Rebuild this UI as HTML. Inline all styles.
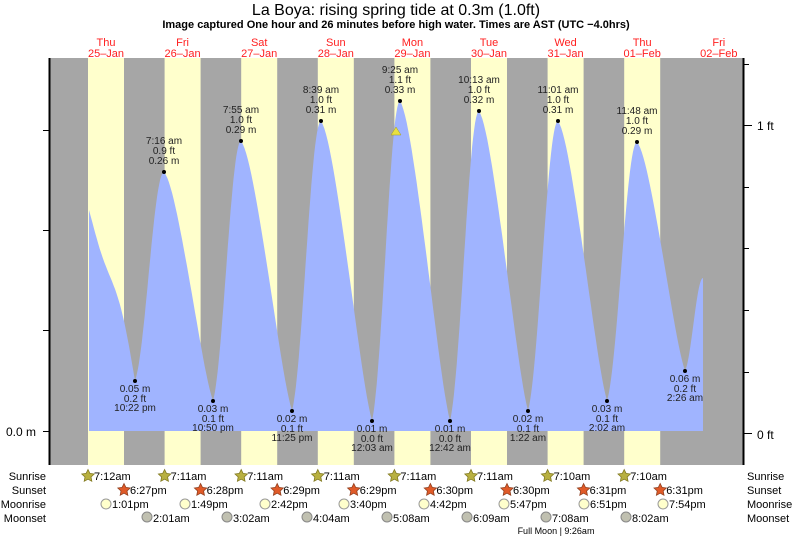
<!DOCTYPE html>
<html><head><meta charset="utf-8"><style>
body{margin:0;background:#fff;}
svg{display:block;font-family:"Liberation Sans",sans-serif;}
</style></head><body>
<svg id="s" width="793" height="539" viewBox="0 0 793 539">
<rect x="50" y="58" width="693" height="407" fill="#a6a6a6"/>
<g id="days" fill="#ffffcc"></g>
<path id="tide" fill="#a0b4ff"/>
<g id="pts"></g>
<line x1="49.5" y1="58" x2="49.5" y2="465" stroke="#000" stroke-width="2"/>
<line x1="743.5" y1="58" x2="743.5" y2="465" stroke="#000" stroke-width="2"/>
<g stroke="#000" stroke-width="1">
<line x1="43" y1="431.5" x2="49" y2="431.5"/><line x1="43" y1="330.5" x2="49" y2="330.5"/>
<line x1="43" y1="230.5" x2="49" y2="230.5"/><line x1="43" y1="130.5" x2="49" y2="130.5"/>
<line x1="744" y1="433.5" x2="752" y2="433.5"/><line x1="744" y1="125.5" x2="752" y2="125.5"/>
<line x1="744" y1="372.5" x2="749" y2="372.5"/><line x1="744" y1="310.5" x2="749" y2="310.5"/>
<line x1="744" y1="248.5" x2="749" y2="248.5"/><line x1="744" y1="187.5" x2="749" y2="187.5"/>
<line x1="744" y1="64.5" x2="749" y2="64.5"/>
</g>
<text x="6" y="436" font-size="12">0.0 m</text>
<text x="757" y="439" font-size="12">0 ft</text>
<text x="757" y="130" font-size="12">1 ft</text>
<text x="396" y="15" font-size="16" text-anchor="middle">La Boya: rising  spring tide at 0.3m (1.0ft)</text>
<text x="396" y="28" font-size="11" font-weight="bold" text-anchor="middle">Image captured One hour and 26 minutes before high water. Times are AST (UTC −4.0hrs)</text>
<g id="lbl" font-size="10" text-anchor="middle" fill="#222"></g>
<g id="bot" font-size="11"></g>
<polygon points="396,127 401,135 391,135" fill="#e8e040" stroke="#a09a20" stroke-width="0.5"/>
</svg>
<script>
var NS="http://www.w3.org/2000/svg";
function el(p,t,a,txt){var e=document.createElementNS(NS,t);for(var k in a)e.setAttribute(k,a[k]);if(txt!=null)e.textContent=txt;document.getElementById(p).appendChild(e);return e;}
var P=76.6;
var dn=["Thu","Fri","Sat","Sun","Mon","Tue","Wed","Thu","Fri"],dd=["25-Jan","26-Jan","27-Jan","28-Jan","29-Jan","30-Jan","31-Jan","01-Feb","02-Feb"];
for(var k=0;k<8;k++){el("days","rect",{x:88+P*k,y:58,width:36,height:407});}
for(var k=0;k<9;k++){var cx=106+P*k;el("lbl","text",{x:cx,y:46,fill:"#ff2020","font-size":"11"},dn[k]);el("lbl","text",{x:cx,y:57,fill:"#ff2020","font-size":"11"},dd[k].replace("-","\u2013"));}
var ex=[[89,210],[135,381],[164,172],[213,401],[241,141],[292,411],[321,121],[372,421],[400,101],[450,421],[479,111],[528,411],[558,121],[607,401],[637,142],[685,371],[703,278]];
var d="M89,431 L89,210 ";
for(var i=0;i<ex.length-1;i++){var a=ex[i],b=ex[i+1];var falling=b[1]>a[1];
for(var t=1;t<=30;t++){var f=t/30;var g;var c=(1-Math.cos(Math.PI*f))/2;
if(i==0){g=0.6*f+0.4*(1-Math.cos(Math.PI*f/2))+0.06*Math.sin(2*Math.PI*f);}
else if(i==ex.length-2){g=0.75*c+0.25*Math.sin(Math.PI*f/2);}
else if(falling){g=0.75*c+0.25*(1-Math.cos(Math.PI*f/2))+0.04*Math.sin(2*Math.PI*f);}
else{g=0.75*c+0.25*Math.sin(Math.PI*f/2);}
var x=a[0]+(b[0]-a[0])*f;var y=a[1]+(b[1]-a[1])*g;d+="L"+x.toFixed(1)+","+y.toFixed(1)+" ";}}
d+="L703,431 Z";document.getElementById("tide").setAttribute("d",d);
var hi=[[164,172,"7:16 am","0.9 ft","0.26 m"],[241,141,"7:55 am","1.0 ft","0.29 m"],[321,121,"8:39 am","1.0 ft","0.31 m"],[400,101,"9:25 am","1.1 ft","0.33 m"],[479,111,"10:13 am","1.0 ft","0.32 m"],[558,121,"11:01 am","1.0 ft","0.31 m"],[637,142,"11:48 am","1.0 ft","0.29 m"]];
hi.forEach(function(h){el("pts","circle",{cx:h[0],cy:h[1],r:2});el("lbl","text",{x:h[0],y:h[1]-28},h[2]);el("lbl","text",{x:h[0],y:h[1]-18},h[3]);el("lbl","text",{x:h[0],y:h[1]-8},h[4]);});
var lo=[[135,381,"0.05 m","0.2 ft","10:22 pm"],[213,401,"0.03 m","0.1 ft","10:50 pm"],[292,411,"0.02 m","0.1 ft","11:25 pm"],[372,421,"0.01 m","0.0 ft","12:03 am"],[450,421,"0.01 m","0.0 ft","12:42 am"],[528,411,"0.02 m","0.1 ft","1:22 am"],[607,401,"0.03 m","0.1 ft","2:02 am"],[685,371,"0.06 m","0.2 ft","2:26 am"]];
lo.forEach(function(h){el("pts","circle",{cx:h[0],cy:h[1],r:2});el("lbl","text",{x:h[0],y:h[1]+11},h[2]);el("lbl","text",{x:h[0],y:h[1]+21},h[3]);el("lbl","text",{x:h[0],y:h[1]+30},h[4]);});
[["Sunrise",480],["Sunset",494],["Moonrise",508],["Moonset",522]].forEach(function(r){el("bot","text",{x:46,y:r[1],"text-anchor":"end"},r[0]);el("bot","text",{x:747,y:r[1]},r[0]);});
function star(cx,cy,fill,stroke){var p="";for(var i=0;i<10;i++){var ang=-Math.PI/2+i*Math.PI/5;var rr=i%2?3.2:6.5;p+=(cx+rr*Math.cos(ang)).toFixed(1)+","+(cy+rr*Math.sin(ang)).toFixed(1)+" ";}el("bot","polygon",{points:p,fill:fill,stroke:stroke,"stroke-width":"0.8"});}
var sr=["7:12am","7:11am","7:11am","7:11am","7:11am","7:11am","7:10am","7:10am"],ss=["6:27pm","6:28pm","6:29pm","6:29pm","6:30pm","6:30pm","6:31pm","6:31pm"];
var mr=[[106,"1:01pm"],[185,"1:49pm"],[265,"2:42pm"],[344,"3:40pm"],[424,"4:42pm"],[504,"5:47pm"],[584,"6:51pm"],[663,"7:54pm"]];
var ms=[[147,"2:01am"],[227,"3:02am"],[307,"4:04am"],[387,"5:08am"],[467,"6:09am"],[546,"7:08am"],[626,"8:02am"]];
for(var k=0;k<8;k++){var x1=88+P*k;star(x1,476,"#b8b040","#807820");el("bot","text",{x:x1+6,y:480},sr[k]);
var x2=124+P*k;star(x2,490,"#e05a28","#904020");el("bot","text",{x:x2+6,y:494},ss[k]);}
mr.forEach(function(m){el("bot","circle",{cx:m[0],cy:504,r:5,fill:"#ffffcc",stroke:"#999"});el("bot","text",{x:m[0]+6,y:508},m[1]);});
ms.forEach(function(m){el("bot","circle",{cx:m[0],cy:517,r:5,fill:"#c0c0b0",stroke:"#888"});el("bot","text",{x:m[0]+6,y:522},m[1]);});
el("bot","text",{x:556,y:534,"font-size":"9","text-anchor":"middle"},"Full Moon | 9:26am");
</script>
</body></html>
